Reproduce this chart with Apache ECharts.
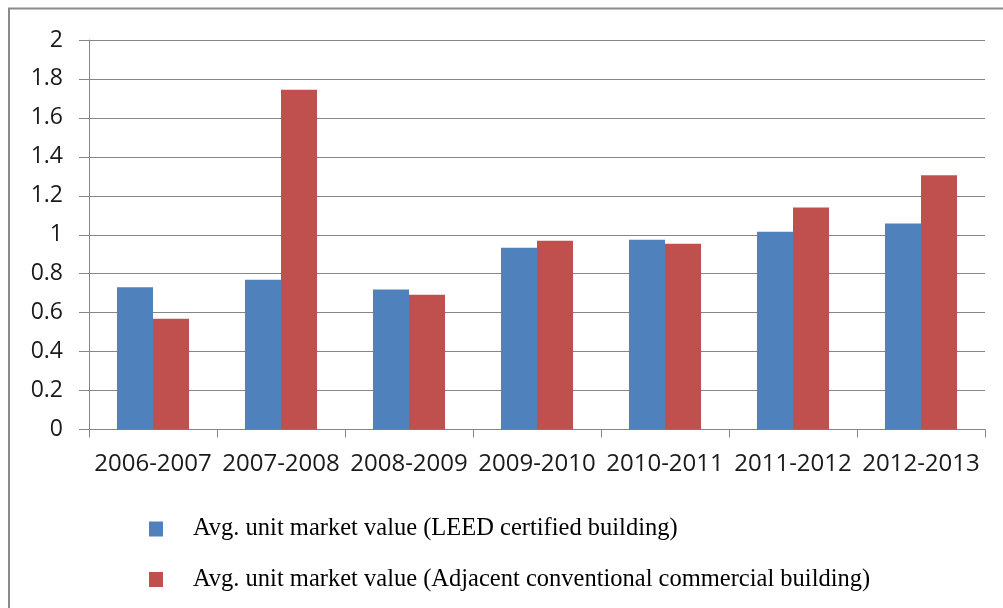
<!DOCTYPE html>
<html>
<head>
<meta charset="utf-8">
<script src="https://cdn.jsdelivr.net/npm/echarts@6/dist/echarts.min.js"></script>
<style>
html,body{margin:0;padding:0;background:#fff;}
#chart{width:1003px;height:608px;}
</style>
</head>
<body>
<div id="chart"></div>
<script>
var categories = ['2006-2007','2007-2008','2008-2009','2009-2010','2010-2011','2011-2012','2012-2013'];
var leedValues = [0.731, 0.769, 0.719, 0.933, 0.974, 1.016, 1.058];
var conventionalValues = [0.569, 1.745, 0.692, 0.969, 0.954, 1.140, 1.306];
var seriesNames = [
  'Avg. unit market value (LEED certified building)',
  'Avg. unit market value (Adjacent conventional commercial building)'
];
var yTicks = { min: 0, max: 2, interval: 0.2 };

var chart = echarts.init(document.getElementById('chart'), null, { renderer: 'canvas' });
var axisGray = '#868686';
chart.setOption({
  animation: false,
  backgroundColor: '#ffffff',
  grid: { left: 89, right: 18, top: 40, bottom: 178.5, containLabel: false },
  graphic: [{
    type: 'rect',
    shape: { x: 9, y: 8.5, width: 1100, height: 700 },
    style: { fill: 'none', stroke: '#8a8a8a', lineWidth: 2 },
    silent: true
  }],
  legend: {
    orient: 'vertical',
    left: 149,
    top: 516.5,
    padding: 0,
    itemWidth: 14,
    itemHeight: 15,
    itemGap: 25.5,
    icon: 'rect',
    selectedMode: false,
    textStyle: {
      fontFamily: 'Liberation Serif',
      fontSize: 24.5,
      lineHeight: 25,
      color: '#000',
      padding: [0, 0, 0, 25]
    },
    data: seriesNames
  },
  xAxis: {
    type: 'category',
    data: categories,
    axisLine: { show: true, lineStyle: { color: axisGray, width: 1 } },
    axisTick: { show: true, length: 8, alignWithLabel: false, lineStyle: { color: axisGray } },
    axisLabel: {
      fontFamily: 'Open Sans',
      fontSize: 24,
      color: '#1a1a1a',
      margin: 23,
      interval: 0
    },
    splitLine: { show: false }
  },
  yAxis: {
    type: 'value',
    min: yTicks.min,
    max: yTicks.max,
    interval: yTicks.interval,
    axisLine: { show: true, lineStyle: { color: axisGray, width: 1 } },
    axisTick: { show: true, length: 10, lineStyle: { color: axisGray } },
    axisLabel: {
      fontFamily: 'Open Sans',
      fontSize: 23,
      color: '#1a1a1a',
      margin: 26,
      formatter: function (v) { return String(Math.round(v * 10) / 10); }
    },
    splitLine: { show: true, lineStyle: { color: axisGray, width: 1 } }
  },
  series: [{
    name: seriesNames[0],
    type: 'bar',
    data: leedValues,
    barGap: '0%',
    barCategoryGap: '43.7%',
    itemStyle: { color: '#4F81BD' }
  }, {
    name: seriesNames[1],
    type: 'bar',
    data: conventionalValues,
    barGap: '0%',
    barCategoryGap: '43.7%',
    itemStyle: { color: '#C0504D' }
  }]
});
</script>
</body>
</html>
